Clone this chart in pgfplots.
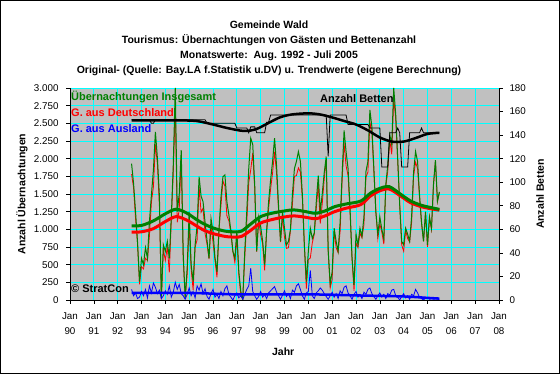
\documentclass[border=0pt]{standalone}
\usepackage{pgfplots}
\pgfplotsset{compat=1.18}
\usepackage{pgfplotstable}
\usepackage{fontspec}
\setmainfont{Liberation Sans}
\definecolor{xlgreen}{HTML}{008000}
\definecolor{xlred}{HTML}{FF0000}
\definecolor{xlblue}{HTML}{0000FF}
\definecolor{xlgray}{HTML}{C0C0C0}
\definecolor{xlcyan}{HTML}{00FFFF}

% x = Jahr (Monatsanfang), g = Insgesamt, d = Deutschland, a = Ausland, b = Betten
\pgfplotstableread{
x g d a b
1992.583 1930 1780 150 153
1992.667 1650 1590 60 153
1992.750 1250 1150 100 153
1992.833 820 800 20 153
1992.917 260 220 40 153
1993.000 590 470 120 153
1993.083 500 440 60 153
1993.167 740 590 150 153
1993.250 590 560 30 153
1993.333 1110 910 200 153
1993.417 1490 1390 100 150
1993.500 1840 1600 240 150
1993.583 2380 2200 180 153
1993.667 2010 1920 90 153
1993.750 1480 1340 140 153
1993.833 30 10 20 153
1993.917 780 720 60 153
1994.000 690 560 130 153
1994.083 830 750 80 153
1994.167 590 390 200 153
1994.250 1170 1130 40 153
1994.333 1910 1800 110 153
1994.417 3000 2750 250 153
1994.500 1250 1100 150 153
1994.583 1500 1280 220 153
1994.667 2120 2030 90 153
1994.750 650 590 60 153
1994.833 30 20 10 153
1994.917 450 370 80 153
1995.000 1250 1080 170 153
1995.083 500 440 60 153
1995.167 260 140 120 153
1995.250 780 750 30 153
1995.333 1050 850 200 153
1995.417 1745 1605 140 153
1995.500 1470 1240 230 153
1995.583 1390 1300 90 153
1995.667 1100 940 160 153
1995.750 840 790 50 150
1995.833 590 580 10 150
1995.917 1150 1060 90 150
1996.000 970 820 150 150
1996.083 600 560 40 150
1996.167 400 320 80 150
1996.250 1000 980 20 150
1996.333 1450 1330 120 150
1996.417 1745 1685 60 150
1996.500 1770 1610 160 150
1996.583 1390 1190 200 150
1996.667 1200 1120 80 150
1996.750 980 940 40 150
1996.833 690 690 0 150
1996.917 590 530 60 150
1997.000 980 880 100 146
1997.083 400 370 30 146
1997.167 120 60 60 146
1997.250 20 10 10 146
1997.333 690 610 80 146
1997.417 1250 1100 150 146
1997.500 1860 1660 200 142
1997.583 2290 1840 450 147
1997.667 2200 2080 120 147
1997.750 1630 1570 60 147
1997.833 690 680 10 142
1997.917 1175 1125 50 142
1998.000 1040 920 120 142
1998.083 830 790 40 142
1998.167 500 420 80 142
1998.250 980 960 20 151
1998.333 1390 1290 100 151
1998.417 1700 1570 130 157
1998.500 1960 1800 160 157
1998.583 2290 2100 190 157
1998.667 1900 1790 110 157
1998.750 1330 1270 60 157
1998.833 830 820 10 157
1998.917 1250 1180 70 157
1999.000 1015 885 130 157
1999.083 780 730 50 157
1999.167 830 740 90 157
1999.250 1000 980 20 157
1999.333 1500 1360 140 157
1999.417 1860 1750 110 157
1999.500 1960 1760 200 157
1999.583 2100 1870 230 157
1999.667 1960 1810 150 157
1999.750 1490 1430 60 157
1999.833 780 770 10 157
1999.917 260 160 100 157
2000.000 690 570 120 157
2000.083 1015 595 420 157
2000.167 870 810 60 157
2000.250 950 930 20 157
2000.333 1390 1290 100 157
2000.417 1760 1630 130 157
2000.500 1250 1080 170 157
2000.583 1500 1360 140 157
2000.667 1800 1710 90 157
2000.750 2030 1980 50 157
2000.833 700 690 10 122
2000.917 230 170 60 157
2001.000 400 290 110 157
2001.083 1015 975 40 157
2001.167 830 740 90 157
2001.250 690 670 20 157
2001.333 1100 970 130 157
2001.417 1770 1680 90 157
2001.500 2400 2220 180 157
2001.583 2100 1900 200 157
2001.667 1860 1760 100 149
2001.750 1300 1240 60 149
2001.833 600 590 10 149
2001.917 210 130 80 149
2002.000 930 810 120 149
2002.083 780 740 40 149
2002.167 1015 945 70 149
2002.250 900 880 20 149
2002.333 1175 1065 110 149
2002.417 1815 1735 80 149
2002.500 1960 1810 150 149
2002.583 2690 2520 170 146
2002.667 2450 2360 90 146
2002.750 1860 1810 50 146
2002.833 1250 1240 10 146
2002.917 930 870 60 146
2003.000 1175 1075 100 146
2003.083 1000 960 40 113
2003.167 870 790 80 113
2003.250 1630 1610 20 113
2003.333 1910 1820 90 113
2003.417 2335 2265 70 142
2003.500 2200 2060 140 142
2003.583 3000 2850 150 142
2003.667 2620 2560 60 142
2003.750 2000 1960 40 146
2003.833 1350 1350 0 142
2003.917 830 780 50 113
2004.000 780 690 90 113
2004.083 1015 985 30 113
2004.167 930 870 60 113
2004.250 830 820 10 142
2004.333 1175 1095 80 142
2004.417 1815 1755 60 142
2004.500 2100 1950 150 142
2004.583 1960 1860 100 142
2004.667 1480 1440 40 142
2004.750 1100 1080 20 146
2004.833 830 830 0 142
2004.917 1250 1220 30 142
2005.000 780 750 30 142
2005.083 1175 1165 10 142
2005.167 1015 995 20 142
2005.250 1630 1620 10 142
2005.333 1980 1960 20 142
2005.417 1400 1390 10 142
2005.500 1530 1520 10 142
}\monthly

% Trendwerte
\pgfplotstableread{
x g d
1992.583 1050 960
1993.000 1055 965
1993.500 1120 1010
1994.000 1220 1110
1994.450 1285 1180
1994.900 1230 1130
1995.300 1140 1050
1995.600 1080 990
1996.000 1020 940
1996.500 975 900
1996.900 965 890
1997.200 975 900
1997.600 1080 990
1998.000 1180 1090
1998.500 1230 1140
1999.000 1260 1175
1999.400 1275 1190
1999.900 1250 1170
2000.300 1227 1150
2000.700 1260 1190
2001.100 1320 1250
2001.600 1360 1300
2002.200 1400 1350
2002.600 1510 1470
2003.000 1580 1545
2003.400 1603 1570
2003.900 1490 1465
2004.300 1400 1375
2004.800 1335 1315
2005.500 1283 1270
}\trendgd

\pgfplotstableread{
x a
1992.583 100
1995.000 100
1997.000 80
2000.000 80
2002.000 65
2004.000 50
2005.000 30
2005.500 20
}\trenda

\pgfplotstableread{
x b
1992.583 152.5
1993.500 152.5
1994.500 152.5
1995.300 152
1996.000 149
1996.600 146
1997.300 143.5
1997.800 145
1998.300 150
1998.800 155
1999.300 157.5
2000.000 158.5
2000.500 157.5
2001.000 155
2001.500 152
2002.000 149
2002.500 144
2003.000 138
2003.500 134.5
2004.000 134.5
2004.500 137.5
2005.000 141
2005.500 142
}\trendb

\begin{document}
\begin{tikzpicture}
\useasboundingbox (0pt,0pt) rectangle (560pt,374pt);
\draw[black, line width=1pt, fill=white] (0.5pt,0.5pt) rectangle (559.5pt,373.5pt);

\begin{scope}[every node/.style={font=\bfseries\fontsize{10.5}{12}\selectfont, anchor=base}]
\node at (269pt,345.5pt) {Gemeinde Wald};
\node at (269pt,330.5pt) {Tourismus: Übernachtungen von Gästen und Bettenanzahl};
\node at (269pt,315.5pt) {Monatswerte:\ \ Aug. 1992 - Juli 2005};
\node at (269pt,300.5pt) {Original- (Quelle: Bay.LA f.Statistik u.DV) u. Trendwerte (eigene Berechnung)};
\end{scope}

\begin{axis}[
  at={(70pt,74pt)}, anchor=south west,
  width=429pt, height=212pt, scale only axis,
  xmin=1990, xmax=2008, ymin=0, ymax=3000,
  axis background/.style={fill=xlgray},
  axis x line*=bottom, axis y line*=left,
  axis line style={black, line width=0.8pt},
  xtick={1990,...,2008},
  xticklabels={{Jan\\90},{Jan\\91},{Jan\\92},{Jan\\93},{Jan\\94},{Jan\\95},{Jan\\96},{Jan\\97},{Jan\\98},{Jan\\99},{Jan\\00},{Jan\\01},{Jan\\02},{Jan\\03},{Jan\\04},{Jan\\05},{Jan\\06},{Jan\\07},{Jan\\08}},
  xticklabel style={align=center, font=\fontsize{9.8}{15}\selectfont, yshift=-5pt},
  minor x tick num=11,
  ytick={0,250,...,3000},
  scaled y ticks=false,
  yticklabel style={font=\fontsize{9.8}{12}\selectfont, xshift=-4pt, /pgf/number format/.cd, fixed, 1000 sep={.}, assume math mode=true},
  grid=major,
  major grid style={xlcyan, line width=0.9pt},
  tick align=outside,
  major tick length=4pt, minor tick length=2pt,
  tick style={black, line width=0.6pt},
  xlabel={Jahr}, ylabel={Anzahl Übernachtungen},
  every axis x label/.style={at={(axis description cs:0.497,-0.245)}, anchor=center, font=\bfseries\fontsize{10.5}{12}\selectfont},
  every axis y label/.style={at={(axis description cs:-0.112,0.5)}, rotate=90, anchor=center, font=\bfseries\fontsize{10.5}{12}\selectfont},
]
\addplot[xlred, line width=0.8pt] table[x=x, y=d] {\monthly};
\addplot[xlgreen, line width=1pt] table[x=x, y=g] {\monthly};
\addplot[xlblue, line width=0.8pt] table[x=x, y=a] {\monthly};
\addplot[xlred, line width=3pt, smooth] table[x=x, y=d] {\trendgd};
\addplot[xlgreen, line width=3pt, smooth] table[x=x, y=g] {\trendgd};
\addplot[xlblue, line width=2.5pt, smooth] table[x=x, y=a] {\trenda};
\end{axis}

\begin{axis}[
  at={(70pt,74pt)}, anchor=south west,
  width=429pt, height=212pt, scale only axis,
  xmin=1990, xmax=2008, ymin=0, ymax=180,
  axis x line=none, axis y line*=right,
  axis line style={black, line width=0.8pt},
  ytick={0,20,...,180},
  yticklabel style={font=\fontsize{9.8}{12}\selectfont, xshift=3pt, /pgf/number format/assume math mode=true},
  tick align=outside, major tick length=4pt,
  tick style={black, line width=0.6pt},
  ylabel={Anzahl Betten},
  every axis y label/.style={at={(axis description cs:1.0956,0.5)}, rotate=90, anchor=center, font=\bfseries\fontsize{10.5}{12}\selectfont},
]
\addplot[black, line width=0.8pt] table[x=x, y=b] {\monthly};
\addplot[black, line width=2.5pt, smooth] table[x=x, y=b] {\trendb};
\end{axis}

\begin{scope}[every node/.style={font=\bfseries\fontsize{11}{12}\selectfont, anchor=west, inner sep=0pt}]
\node[text=xlgreen] at (71pt,277pt) {Übernachtungen Insgesamt};
\node[text=xlred] at (71pt,261pt) {G. aus Deutschland};
\node[text=xlblue] at (71pt,245pt) {G. aus Ausland};
\node[text=black] at (320pt,275pt) {Anzahl Betten};
\node[text=black] at (71pt,85pt) {© StratCon};
\end{scope}
\end{tikzpicture}
\end{document}
